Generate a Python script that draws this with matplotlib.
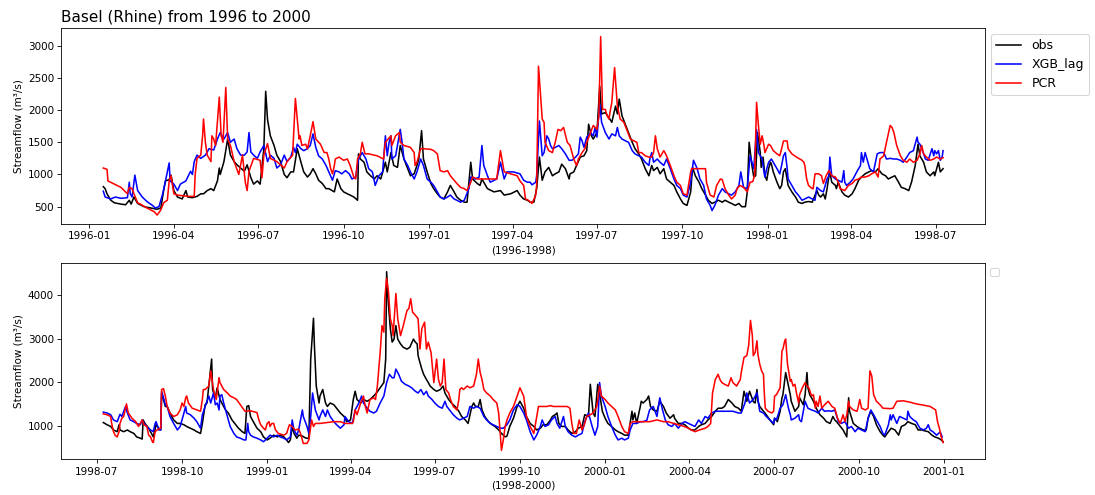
import pandas as pd
import matplotlib
matplotlib.use('Agg')
import matplotlib.pyplot as plt
import matplotlib.dates as mdates

# streamflow at Basel, (day since start, m3/s) pairs
start_a = pd.Timestamp('1996-01-16')
start_b = pd.Timestamp('1998-07-08')

obs_a = [
    (0, 810), (2, 780), (4, 700), (8, 600), (12, 560), (19, 540), (24, 530), (28, 600), (30, 540), (33, 650),
    (37, 550), (44, 500), (51, 480), (58, 460), (62, 480), (65, 750), (67, 900), (71, 920), (73, 990), (76, 750),
    (80, 650), (85, 620), (89, 750), (91, 650), (96, 640), (101, 660), (105, 700), (108, 700), (112, 750), (116, 780),
    (119, 750), (123, 900), (125, 1100), (126, 1000), (130, 1200), (134, 1550), (137, 1300), (141, 1200), (144, 1150),
    (148, 1100), (152, 1050), (155, 1150), (159, 950), (162, 850), (166, 900), (169, 850), (173, 1400), (175, 2290),
    (177, 1850), (180, 1600), (184, 1450), (187, 1300), (191, 1200), (195, 1000), (198, 950),
    (202, 1040), (205, 1040), (209, 1400), (213, 1190), (216, 1040), (220, 960), (223, 1010), (226, 1090), (229, 1010),
    (232, 910), (236, 860), (240, 780), (243, 780), (249, 730), (252, 930), (256, 780), (259, 730), (263, 700),
    (266, 680), (270, 650), (274, 600), (275, 1320), (277, 1240), (281, 1190), (284, 1040), (288, 980), (292, 930),
    (295, 980), (299, 930), (304, 1190), (306, 1040), (310, 1340), (313, 1140), (317, 1110), (320, 1450), (324, 1240),
    (328, 1090), (331, 980), (335, 1010), (338, 1140), (340, 1240), (343, 1680), (345, 1240), (349, 1040), (353, 860),
    (356, 780), (360, 700), (363, 650), (367, 620), (371, 730), (374, 830), (378, 730), (381, 650), (385, 600),
    (389, 570), (392, 570), (396, 1190), (398, 930), (403, 860), (406, 830), (408, 930), (414, 780), (421, 730),
    (428, 750), (432, 680), (439, 700), (446, 750),
    (449, 680), (453, 620), (457, 600), (460, 570), (464, 570), (467, 780), (470, 1270), (473, 910), (476, 1040),
    (480, 1110), (484, 980), (487, 1010), (491, 1040), (494, 1160), (498, 1090), (502, 930), (503, 1010), (507, 1040),
    (510, 1140), (514, 1270), (518, 1290), (521, 1370), (523, 1780), (526, 1600), (528, 1550), (532, 1650), (535, 2370),
    (537, 1940), (541, 1960), (545, 1880), (548, 1810), (552, 2060), (554, 1940), (556, 2170), (559, 1910), (563, 1760),
    (566, 1650), (570, 1500), (573, 1400), (577, 1320), (580, 1240), (584, 1090), (588, 980), (591, 1140), (593, 1060),
    (597, 1110), (600, 1010), (604, 1090), (607, 930), (611, 880), (615, 830), (618, 730), (622, 620), (625, 550),
    (629, 520), (633, 730), (635, 1110), (638, 980), (642, 880), (645, 780), (649, 680), (652, 600), (656, 550),
    (659, 570), (663, 600), (667, 570), (670, 600), (674, 570), (677, 550), (681, 520), (685, 550), (688, 500),
    (692, 500), (694, 730), (696, 1500), (699, 1140), (701, 960), (703, 980), (705, 1650), (708, 1340), (709, 1110),
    (711, 1270), (713, 980), (715, 910), (717, 1090), (719, 1190), (720, 1160), (722, 1040), (726, 880), (729, 780),
    (731, 830), (733, 1040), (735, 1090), (737, 910), (738, 830), (742, 730), (746, 650), (749, 570), (753, 550),
    (756, 570), (760, 580), (764, 570), (769, 750), (771, 680), (773, 650), (776, 700), (778, 620), (780, 780),
    (782, 980), (783, 1040), (785, 880), (789, 830), (790, 780), (792, 880), (796, 730), (799, 680), (803, 650),
    (807, 700), (810, 780), (814, 910), (817, 960), (821, 1010), (825, 1040), (828, 1060), (832, 1040), (835, 1090),
    (839, 1010), (843, 980), (846, 930), (850, 960), (853, 980), (857, 880), (860, 800), (864, 780), (868, 750),
    (871, 880), (875, 1140), (878, 1470), (880, 1290), (884, 1190), (887, 1040), (891, 980), (895, 1040), (896, 980),
    (900, 1190), (902, 1040), (905, 1090),
]

xgb_a = [
    (0, 740), (2, 650), (8, 620), (13, 650), (19, 630), (26, 640), (28, 880), (29, 700), (31, 650), (34, 990),
    (37, 750), (42, 650), (47, 580), (53, 520), (56, 480), (60, 500), (64, 700), (67, 900), (71, 1180), (72, 900),
    (76, 850), (80, 750), (83, 850), (89, 900), (94, 1050), (96, 1000), (98, 1200), (101, 1300), (105, 1250),
    (110, 1300), (114, 1400), (119, 1380), (123, 1550), (126, 1650), (130, 1550), (134, 1650), (137, 1500),
    (141, 1550), (144, 1400), (148, 1300), (152, 1300), (155, 1350), (157, 1650), (159, 1350), (162, 1300),
    (166, 1250), (169, 1350), (173, 1450), (177, 1200), (180, 1300), (184, 1250), (187, 1100), (191, 1150),
    (195, 1300), (198, 1200),
    (202, 1270), (205, 1420), (207, 1340), (209, 1470), (213, 1400), (216, 1370), (220, 1400), (223, 1450),
    (226, 1630), (229, 1420), (232, 1290), (236, 1240), (240, 1140), (243, 1040), (247, 910), (250, 1060),
    (254, 1040), (257, 1010), (261, 1060), (265, 1010), (268, 930), (272, 960), (275, 1240), (279, 1340),
    (283, 1240), (286, 1090), (290, 1040), (293, 830), (297, 980), (301, 1040), (304, 1600), (306, 1290),
    (308, 1500), (310, 1600), (311, 1240), (315, 1290), (317, 1450), (320, 1700), (322, 1500), (324, 1240),
    (328, 1140), (331, 1040), (335, 930), (338, 1040), (342, 1240), (345, 1140), (349, 930), (353, 880),
    (356, 830), (360, 730), (363, 650), (367, 620), (371, 650), (374, 680), (378, 620), (381, 600), (385, 570),
    (389, 600), (394, 780), (396, 960), (401, 930), (405, 960), (408, 1450), (410, 1140), (414, 980), (417, 880),
    (424, 930), (428, 1190), (432, 930), (435, 1040), (442, 1040),
    (449, 1010), (453, 910), (457, 880), (460, 880), (462, 840), (466, 880), (467, 980), (470, 1830), (473, 1290),
    (475, 1340), (478, 1600), (480, 1550), (482, 1450), (484, 1400), (487, 1420), (491, 1450), (494, 1400),
    (498, 1320), (502, 1220), (505, 1220), (509, 1270), (512, 1320), (514, 1580), (516, 1520), (518, 1420),
    (521, 1580), (525, 1650), (528, 1600), (530, 1730), (532, 1580), (535, 2090), (537, 1810), (541, 1650),
    (545, 1550), (548, 1630), (552, 1600), (554, 1730), (556, 1600), (559, 1550), (563, 1520), (566, 1500),
    (570, 1370), (573, 1320), (577, 1290), (580, 1270), (584, 1190), (588, 1140), (589, 1240), (591, 1340),
    (593, 1190), (597, 1240), (600, 1190), (604, 1140), (607, 1240), (611, 1090), (615, 930), (618, 830),
    (622, 780), (625, 680), (629, 650), (633, 880), (636, 1220), (640, 1090), (643, 930), (647, 830), (650, 620),
    (654, 520), (656, 440), (659, 520), (663, 680), (667, 780), (670, 730), (674, 700), (677, 680), (681, 730),
    (685, 830), (687, 1040), (690, 800), (694, 780), (697, 1290), (699, 1190), (701, 1090), (704, 1700),
    (706, 1340), (708, 1290), (710, 1240), (712, 1040), (713, 960), (715, 1090), (717, 1190), (720, 1240),
    (722, 1190), (726, 1090), (729, 1010), (731, 1140), (733, 1290), (735, 1340), (737, 1090), (738, 930),
    (742, 830), (746, 730), (749, 680), (753, 600), (756, 620), (760, 650), (764, 620), (767, 600), (769, 800),
    (773, 750), (776, 730), (778, 830), (780, 930), (782, 980), (783, 1270), (785, 980), (789, 930), (792, 910),
    (796, 880), (798, 1060), (799, 880), (801, 830), (805, 880), (808, 930), (812, 1040), (816, 1140), (817, 1340),
    (819, 1190), (821, 1340), (823, 1240), (826, 1090), (830, 1040), (834, 1320), (837, 1340), (841, 1340),
    (844, 1240), (848, 1250), (852, 1240), (855, 1240), (859, 1220), (862, 1190), (866, 1270), (869, 1340),
    (873, 1370), (877, 1580), (878, 1500), (880, 1470), (882, 1400), (886, 1240), (889, 1220), (893, 1400),
    (895, 1290), (896, 1370), (898, 1320), (900, 1370), (902, 1220), (904, 1270), (905, 1370),
]

pcr_a = [
    (0, 1100), (4, 1080), (5, 900), (12, 850), (19, 800), (26, 700), (28, 800), (31, 780), (33, 700), (37, 560),
    (40, 540), (47, 480), (55, 420), (58, 370), (62, 450), (65, 560), (69, 600), (71, 900), (73, 980), (76, 700),
    (80, 680), (91, 660), (98, 660), (99, 1000), (101, 1250), (105, 1300), (107, 1600), (108, 1860), (110, 1500),
    (112, 1300), (116, 1200), (117, 1600), (119, 1550), (121, 1450), (125, 2200), (127, 1600), (129, 1500),
    (132, 2350), (134, 1550), (137, 1450), (141, 1200), (146, 1000), (150, 1300), (153, 880), (155, 750),
    (157, 1050), (162, 1250), (169, 1220), (171, 950), (173, 1300), (177, 1480), (180, 1250), (187, 1200),
    (195, 1100), (198, 1200), (204, 1300), (207, 2180), (211, 1550), (212, 1600),
    (214, 1450), (218, 1470), (220, 1400), (223, 1600), (226, 1820), (229, 1550), (234, 1470), (238, 1340),
    (241, 1340), (243, 1240), (245, 1090), (247, 1010), (249, 1140), (250, 1240), (254, 1270), (259, 1220),
    (263, 1240), (266, 1140), (270, 960), (272, 930), (274, 1240), (277, 1320), (279, 1500), (282, 1320),
    (286, 1320), (295, 1290), (302, 1240), (304, 1500), (310, 1600), (311, 1450), (315, 1600), (319, 1650),
    (320, 1500), (324, 1450), (331, 1420), (335, 1340), (336, 1140), (338, 1190), (342, 1400), (345, 1400),
    (353, 1390), (356, 1370), (360, 1320), (362, 1140), (363, 1060), (367, 1040), (371, 1060), (374, 980),
    (378, 910), (381, 860), (385, 800), (389, 780), (392, 750), (396, 880), (398, 960), (403, 930), (410, 930),
    (417, 930), (424, 930), (428, 1370), (432, 1040), (439, 1010), (446, 980),
    (449, 900), (453, 830), (455, 620), (458, 600), (462, 550), (466, 680), (467, 830), (469, 2680), (471, 2270),
    (473, 1860), (475, 1810), (476, 1500), (480, 1370), (484, 1340), (487, 1500), (490, 1700), (493, 1680),
    (496, 1730), (500, 1500), (503, 1450), (507, 1240), (510, 1140), (512, 1240), (516, 1340), (519, 1400),
    (521, 1500), (525, 1650), (528, 1760), (532, 1700), (534, 1910), (536, 3140), (538, 2010), (541, 2010),
    (543, 1910), (545, 1860), (546, 1960), (548, 2120), (551, 2660), (554, 2060), (557, 1860), (561, 1810),
    (564, 1700), (568, 1550), (572, 1520), (575, 1500), (577, 1340), (580, 1340), (584, 1290), (588, 1270),
    (591, 1270), (593, 1340), (595, 1600), (597, 1400), (600, 1270), (604, 1370), (607, 1290), (611, 1140),
    (615, 980), (618, 880), (622, 830), (625, 700), (629, 680), (633, 1040), (634, 1090), (640, 1090),
    (645, 1090), (649, 1090), (650, 880), (654, 680), (658, 650), (661, 830), (665, 930), (667, 920), (670, 780),
    (674, 680), (677, 620), (681, 680), (683, 780), (686, 830), (690, 800), (694, 730), (697, 880), (700, 890),
    (702, 1000), (704, 2120), (706, 1760), (708, 1470), (710, 1600), (712, 1450), (713, 1340), (717, 1470),
    (719, 1450), (722, 1370), (726, 1320), (729, 1290), (731, 1400), (733, 1520), (737, 1520), (738, 1400),
    (742, 1320), (747, 1270), (753, 1220), (755, 1190), (756, 1140), (758, 930), (760, 830), (764, 780),
    (765, 780), (767, 1010), (771, 1010), (774, 980), (776, 860), (779, 980), (782, 1060), (785, 980),
    (789, 960), (792, 880), (794, 780), (799, 750), (803, 830), (807, 860), (810, 910), (814, 930), (817, 960),
    (821, 960), (825, 980), (828, 1010), (832, 1040), (835, 960), (837, 1240), (841, 1290), (844, 1500),
    (848, 1760), (850, 1730), (852, 1650), (855, 1450), (859, 1290), (862, 1220), (866, 1190), (869, 1240),
    (873, 1190), (877, 1220), (880, 1320), (882, 1450), (884, 1320), (887, 1270), (891, 1220), (895, 1240),
    (898, 1270), (902, 1240), (905, 1260),
]

obs_b = [
    (0, 1070), (4, 1020), (8, 980), (11, 900), (15, 860), (17, 1020), (18, 900), (22, 860), (26, 900), (29, 860),
    (33, 820), (36, 740), (40, 710), (42, 690), (43, 1130), (45, 1050), (49, 940), (53, 780), (54, 740),
    (57, 1020), (60, 940), (62, 900), (63, 1750), (65, 1600), (67, 1440), (69, 1440), (72, 1290), (76, 1130),
    (80, 1050), (83, 1050), (87, 1020), (90, 980), (94, 940), (98, 900), (101, 860), (105, 820), (107, 1050),
    (110, 1480), (112, 1520), (117, 2530), (118, 1830), (121, 1640), (123, 1870), (126, 1600), (128, 1520),
    (132, 1360), (135, 1290), (139, 1130), (143, 1020), (146, 940), (150, 860), (153, 820), (155, 1440),
    (157, 1460), (159, 1210), (162, 1090), (166, 940), (170, 860), (173, 740), (177, 670), (180, 710),
    (184, 780), (188, 740), (191, 780), (195, 740), (198, 670), (200, 610), (202, 670), (204, 980), (206, 820),
    (209, 710), (211, 780), (215, 760), (218, 720), (222, 700),
    (224, 2530), (227, 3470), (228, 2840), (230, 1910), (233, 1520), (234, 1680), (237, 1830), (240, 1520),
    (242, 1440), (245, 1520), (249, 1480), (252, 1400), (256, 1290), (260, 1210), (263, 1090), (267, 1130),
    (270, 1600), (272, 1790), (274, 1600), (278, 1520), (281, 1600), (285, 1560), (288, 1600), (292, 1680),
    (295, 1750), (299, 1870), (303, 1990), (305, 2530), (306, 4540), (308, 3770), (310, 3230), (312, 2920),
    (314, 2990), (316, 3300), (318, 2990), (321, 2880), (324, 2800), (328, 2760), (331, 2800), (335, 2990),
    (337, 2920), (339, 2880), (340, 2610), (342, 2450), (344, 2300), (346, 2180), (348, 2100), (349, 2060),
    (351, 1990), (353, 1910), (357, 1830), (360, 1790), (364, 1830), (367, 1910), (369, 1750), (373, 1600),
    (376, 1520), (380, 1440), (384, 1330), (387, 1210), (391, 1130), (394, 1050), (398, 1440), (400, 1520),
    (402, 1440), (405, 1440), (407, 1600), (409, 1360), (412, 1210), (416, 1090), (420, 1020), (423, 980),
    (427, 900), (430, 820), (434, 740), (436, 760), (439, 980), (443, 1170), (447, 1440), (450, 1560),
    (454, 1400), (457, 1210), (461, 1050), (465, 980), (468, 900), (472, 940), (475, 1020), (479, 1020),
    (483, 1130), (485, 1210), (488, 1250), (490, 1290), (492, 1050), (495, 980), (499, 980), (502, 900),
    (506, 820), (510, 860), (513, 940), (517, 980), (520, 1250), (524, 1210), (526, 1950), (529, 1290),
    (531, 1210), (534, 1950), (537, 1600), (539, 1330), (542, 1170), (545, 1050), (549, 980), (553, 900),
    (556, 860), (560, 820), (563, 780), (567, 780), (569, 1050), (571, 1330), (572, 1130), (574, 1290),
    (576, 1050), (580, 1440), (581, 1560), (583, 1520), (587, 1600), (589, 1680), (591, 1440), (594, 1360),
    (598, 1330), (601, 1560), (605, 1440), (608, 1290), (612, 1170), (616, 1250), (617, 1170), (621, 1050),
    (625, 1050), (628, 1020), (632, 940), (635, 900), (639, 900), (643, 980), (646, 1020), (650, 1050),
    (653, 1130), (657, 1210), (661, 1330), (664, 1400), (668, 1400), (671, 1440), (675, 1600), (679, 1520),
    (682, 1440), (686, 1400), (689, 1330), (692, 1790), (695, 1560), (698, 1790), (702, 1550), (704, 1520),
    (706, 1830), (707, 1560), (709, 1440), (713, 1330), (716, 1250), (720, 1130), (724, 1020), (725, 1170),
    (728, 1090), (731, 1330), (733, 1640), (734, 1710), (737, 2220), (739, 2020), (742, 1710), (743, 1560),
    (747, 1330), (751, 1440), (752, 1640), (754, 1560), (756, 1480), (758, 1710), (760, 2220), (761, 1870),
    (763, 1710), (767, 1560), (770, 1400), (774, 1250), (778, 1170), (781, 1090), (785, 1050), (788, 1210),
    (790, 1130), (792, 1090), (796, 980), (799, 900), (803, 740), (805, 1640), (806, 1330), (810, 1050),
    (814, 980), (817, 940), (821, 900), (824, 900), (826, 1170), (829, 1330), (832, 1210), (835, 1020),
    (839, 860), (842, 780), (844, 740), (848, 860), (851, 940), (855, 900), (859, 780), (862, 980), (866, 1020),
    (869, 1090), (873, 1050), (877, 1020), (880, 900), (884, 900), (887, 880), (891, 860), (895, 780),
    (898, 740), (902, 710), (905, 670), (907, 630),
]

xgb_b = [
    (0, 1310), (4, 1290), (8, 1250), (11, 1130), (15, 1090), (18, 1260), (20, 1210), (24, 1440), (26, 1290),
    (29, 1130), (33, 1090), (36, 1050), (40, 1020), (42, 1130), (44, 1050), (47, 980), (51, 900), (54, 860),
    (56, 1050), (57, 1090), (60, 900), (62, 900), (63, 1790), (65, 1640), (67, 1480), (69, 1440), (72, 1210),
    (76, 1050), (80, 900), (83, 980), (85, 1130), (89, 1440), (90, 1290), (94, 1250), (98, 1170), (101, 1090),
    (105, 940), (107, 1250), (110, 1440), (114, 1680), (116, 1520), (119, 1750), (121, 1480), (123, 1520),
    (125, 1360), (126, 1680), (128, 1710), (130, 1520), (134, 1210), (137, 980), (141, 820), (144, 740),
    (148, 710), (152, 670), (154, 670), (156, 1050), (157, 860), (159, 780), (162, 740), (166, 710), (170, 670),
    (173, 630), (177, 710), (180, 780), (184, 740), (188, 780), (191, 740), (195, 710), (198, 670), (202, 740),
    (204, 1130), (206, 900), (209, 780), (211, 900), (215, 1360), (216, 1210), (220, 980), (222, 820),
    (224, 1210), (226, 1750), (229, 1360), (233, 1130), (234, 1210), (237, 1360), (240, 1210), (242, 1360),
    (245, 1210), (249, 1090), (252, 1020), (256, 940), (260, 1020), (261, 1210), (265, 1090), (269, 1050),
    (272, 1360), (276, 1520), (279, 1680), (281, 1520), (285, 1400), (288, 1330), (292, 1290), (295, 1330),
    (299, 1520), (303, 1680), (306, 1990), (309, 2180), (312, 2100), (314, 2100), (316, 2300), (319, 2180),
    (322, 2020), (326, 1950), (330, 1910), (333, 1870), (337, 1790), (340, 1750), (343, 1830), (346, 1710),
    (349, 1790), (351, 1680), (355, 1600), (358, 1520), (362, 1440), (366, 1400), (369, 1560), (371, 1440),
    (375, 1330), (378, 1250), (382, 1170), (385, 1130), (389, 1170), (393, 1210), (396, 1440), (400, 1400),
    (403, 1440), (407, 1400), (411, 1210), (414, 1130), (418, 1050), (421, 1020), (425, 980), (429, 940),
    (432, 940), (436, 1020), (439, 1130), (443, 1360), (447, 1480), (450, 1440), (454, 1290), (457, 1130),
    (461, 860), (465, 670), (468, 780), (472, 980), (474, 1130), (477, 980), (481, 1020), (484, 1130),
    (488, 1210), (490, 1050), (493, 940), (497, 1210), (499, 980), (502, 860), (506, 780), (510, 740),
    (513, 780), (517, 820), (520, 1090), (524, 1290), (528, 980), (531, 780), (534, 980), (536, 1990),
    (538, 1680), (542, 1440), (545, 1210), (549, 980), (553, 780), (556, 670), (560, 710), (563, 670),
    (567, 710), (569, 900), (572, 1050), (576, 1050), (580, 1090), (583, 1090), (587, 1120), (590, 1360),
    (594, 1440), (598, 1210), (601, 1640), (604, 1360), (607, 1130), (610, 1020), (614, 980), (617, 1050),
    (621, 940), (625, 1050), (628, 1090), (632, 1050), (635, 1020), (639, 980), (643, 1130), (646, 1050),
    (650, 1210), (653, 1170), (657, 1290), (661, 1330), (666, 1330), (673, 1330), (680, 1330), (686, 1290),
    (689, 1290), (693, 1520), (695, 1750), (698, 1520), (702, 1600), (706, 1750), (709, 1330), (713, 1290),
    (716, 1210), (720, 1130), (724, 1050), (725, 1170), (727, 1130), (731, 1400), (734, 1480), (737, 1710),
    (740, 1400), (742, 1250), (743, 1130), (747, 1170), (751, 1250), (752, 1130), (754, 1090), (756, 1330),
    (758, 1560), (761, 1400), (765, 1360), (769, 1330), (772, 1290), (776, 1400), (779, 1330), (783, 1340),
    (787, 1330), (790, 1360), (794, 1090), (797, 1050), (801, 1090), (805, 940), (808, 980), (812, 860),
    (815, 940), (819, 900), (823, 860), (826, 1170), (829, 1360), (832, 1250), (835, 1130), (839, 980),
    (842, 820), (844, 780), (848, 1020), (850, 1250), (851, 1130), (853, 1250), (857, 1050), (860, 1210),
    (864, 1170), (868, 1130), (869, 1330), (871, 1210), (875, 1130), (878, 1090), (882, 940), (886, 900),
    (889, 940), (891, 1020), (893, 900), (896, 860), (900, 780), (902, 820), (904, 850), (906, 740),
]

pcr_b = [
    (0, 1270), (4, 1250), (8, 1210), (9, 1050), (11, 860), (13, 770), (15, 740), (17, 860), (18, 1050),
    (20, 1170), (22, 1210), (25, 1500), (27, 1290), (31, 1170), (35, 1090), (38, 980), (42, 1130), (44, 1020),
    (47, 980), (49, 780), (51, 740), (53, 630), (54, 610), (56, 860), (58, 900), (62, 940), (63, 1830),
    (65, 1850), (67, 1680), (69, 1440), (72, 1290), (76, 1210), (80, 1250), (83, 1360), (85, 1520), (87, 1440),
    (89, 1640), (90, 1680), (92, 1520), (96, 1400), (101, 1360), (105, 1330), (107, 1600), (108, 1830),
    (110, 1830), (114, 1910), (116, 2260), (119, 1830), (122, 1600), (125, 2100), (126, 1990), (130, 1830),
    (134, 1750), (137, 1680), (141, 1640), (144, 1600), (148, 1480), (152, 1360), (153, 1330), (159, 1340),
    (166, 1300), (168, 1130), (170, 1020), (173, 940), (175, 900), (177, 1050), (179, 1090), (180, 980),
    (182, 1050), (184, 1050), (186, 900), (189, 820), (195, 780), (198, 820), (201, 1020), (204, 980),
    (207, 900), (211, 920), (213, 820), (215, 670), (216, 590), (220, 590), (222, 670), (224, 980), (225, 1130),
    (227, 980), (229, 1050), (234, 1050), (242, 1070), (249, 1090), (256, 1090), (261, 1050), (269, 1050),
    (270, 1090), (272, 1360), (274, 1250), (278, 1520), (281, 1680), (283, 1440), (285, 1290), (288, 1600),
    (292, 1640), (294, 1600), (296, 1910), (299, 2680), (301, 3300), (303, 3150), (304, 3920), (306, 4390),
    (308, 4080), (310, 3460), (312, 3300), (313, 3070), (316, 4040), (318, 3460), (321, 3070), (324, 3300),
    (328, 3650), (330, 3690), (332, 3920), (334, 3610), (337, 3540), (340, 3460), (342, 2760), (344, 3230),
    (347, 3380), (349, 2760), (351, 2920), (354, 2680), (357, 1990), (360, 2530), (362, 2060), (364, 1910),
    (366, 1990), (368, 2530), (370, 1830), (373, 1750), (375, 1600), (378, 1440), (382, 1360), (384, 1600),
    (385, 1830), (387, 1870), (389, 1830), (393, 1910), (396, 1870), (400, 1910), (403, 2180), (405, 2530),
    (407, 2220), (409, 2060), (411, 1830), (414, 1750), (418, 1680), (421, 1600), (425, 1520), (427, 1290),
    (429, 740), (430, 430), (432, 670), (434, 980), (436, 1130), (439, 1290), (443, 1440), (447, 1680),
    (450, 1870), (454, 1680), (457, 1210), (461, 980), (465, 820), (466, 940), (470, 1440), (474, 1440),
    (479, 1440), (483, 1460), (486, 1440), (493, 1440), (501, 1440), (504, 1400), (506, 1050), (508, 820),
    (511, 820), (514, 1130), (517, 900), (520, 1050), (522, 1210), (526, 1250), (529, 1290), (533, 1440),
    (536, 1910), (538, 1680), (542, 1600), (545, 1520), (549, 1440), (553, 1360), (556, 1210), (560, 980),
    (563, 860), (567, 820), (569, 1050), (572, 1090), (581, 1090), (590, 1090), (598, 1130), (605, 1090),
    (610, 1090), (616, 1050), (621, 1020), (626, 990), (632, 940), (635, 900), (639, 860), (644, 900),
    (650, 940), (653, 980), (656, 1050), (658, 1750), (661, 2060), (664, 2180), (666, 2060), (668, 1990),
    (671, 1950), (675, 1910), (678, 2100), (680, 1990), (684, 1910), (688, 2060), (689, 2220), (692, 2570),
    (695, 2610), (697, 2840), (699, 3420), (701, 3070), (702, 2610), (704, 2680), (706, 2950), (707, 2640),
    (709, 2410), (711, 2260), (713, 2180), (714, 1710), (715, 1400), (718, 1330), (722, 1290), (724, 1330),
    (725, 1680), (727, 1710), (729, 1790), (731, 1870), (733, 2720), (734, 2760), (736, 2950), (737, 2990),
    (739, 2410), (742, 2020), (743, 2060), (745, 1910), (747, 1950), (749, 1710), (751, 1520), (752, 1710),
    (755, 1870), (758, 1990), (760, 1910), (762, 1870), (765, 1680), (767, 1710), (769, 1400), (770, 1560),
    (772, 1440), (774, 1680), (776, 1400), (779, 1480), (783, 1560), (787, 1440), (790, 1400), (793, 1170),
    (796, 1050), (799, 1250), (801, 1090), (803, 1250), (805, 1560), (806, 1440), (810, 1360), (814, 1330),
    (815, 1400), (817, 1600), (819, 1400), (823, 1360), (826, 1400), (828, 2260), (830, 2140), (832, 1710),
    (835, 1560), (839, 1480), (842, 1400), (850, 1390), (853, 1400), (857, 1560), (864, 1570), (871, 1540),
    (878, 1500), (886, 1470), (893, 1440), (896, 1400), (899, 1360), (901, 1090), (903, 940), (905, 740),
    (907, 610),
]

series_names = ['obs', 'XGB_lag', 'PCR']
series_colors = ['black', 'blue', 'red']


def to_frame(points, start):
    days, vals = zip(*points)
    return start + pd.to_timedelta(list(days), unit='D'), list(vals)


fig = plt.figure(figsize=(14.6, 6.6), dpi=75)
ax1 = fig.add_axes([0.056, 0.5475, 0.8436, 0.3966])
ax2 = fig.add_axes([0.056, 0.0721, 0.8436, 0.397])

for ax, data, start in [(ax1, [obs_a, xgb_a, pcr_a], start_a),
                        (ax2, [obs_b, xgb_b, pcr_b], start_b)]:
    for pts, name, c in zip(data, series_names, series_colors):
        t, q = to_frame(pts, start)
        if ax is ax1:
            ax.plot(t, q, color=c, label=name)
        else:
            ax.plot(t, q, color=c)
    ax.xaxis.set_major_locator(mdates.MonthLocator(bymonth=[1, 4, 7, 10]))
    ax.xaxis.set_major_formatter(mdates.DateFormatter('%Y-%m'))
    ax.set_ylabel('Streamflow (m³/s)')

ax1.set_title('Basel (Rhine) from 1996 to 2000', loc='left', fontsize=14.7)
ax1.set_xlabel('(1996-1998)')
ax2.set_xlabel('(1998-2000)')
ax1.legend(loc='upper left', bbox_to_anchor=(1, 1), fontsize=12)
ax2.legend(handles=[], loc='upper left', bbox_to_anchor=(1, 1))

fig.savefig('out.png', dpi=75)
